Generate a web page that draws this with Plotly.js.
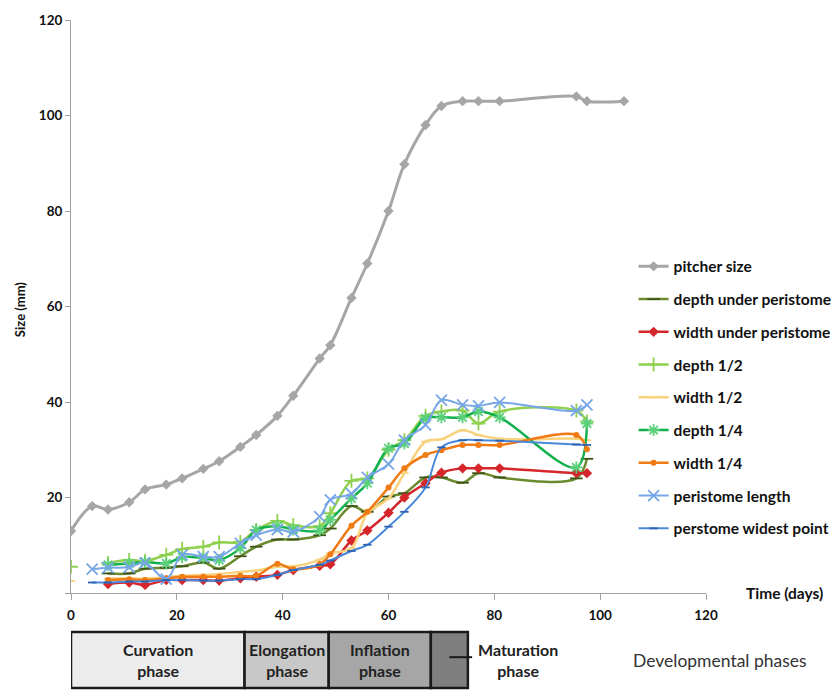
<!DOCTYPE html>
<html>
<head>
<meta charset="utf-8">
<script src="https://cdn.plot.ly/plotly-3.0.1.min.js"></script>
<style>html,body{margin:0;padding:0;background:#fff;}#chart{width:835px;height:690px;overflow:hidden;}</style>
</head>
<body>
<div id="chart"></div>
<script>
// ---- data (days and sizes in mm) ----
const days = [0, 4, 7, 11, 14, 18, 21, 25, 28, 32, 35, 39, 42, 47, 49, 53, 56, 60, 63, 67, 70, 74, 77, 81, 95.5, 97.5, 104.5];
const pitcherSize  = [13, 18.2, 17.5, 19, 21.7, 22.7, 24, 26, 27.6, 30.6, 33.1, 37.1, 41.3, 49.1, 51.9, 61.8, 69, 80, 89.8, 98, 102, 103, 103, 103, 104, 103, 103];
const depthUnder   = [null, null, 4.1, 4.1, 5.1, 5.3, 5.6, 6.4, 5.1, 7.7, 9.7, 11.2, 11.2, 12.1, 13.5, 18.2, 17.0, 20.2, 20.9, 24.2, 24.2, 23.1, 25.1, 24.2, 24.0, 28.1, null];
const widthUnder   = [null, null, 1.9, 2.2, 1.7, 2.7, 2.7, 2.7, 2.6, 3.1, 3.4, 3.8, 4.8, 5.7, 6.0, 11.0, 13.1, 16.8, 20.0, 23.0, 25.2, 26.1, 26.1, 26.1, 25.1, 25.1, null];
const depthHalf    = [5.5, null, 6.3, 6.9, 6.7, 8.0, 9.2, 9.7, 10.6, 10.7, 13.2, 15.1, 14.2, 14.0, 16.7, 23.5, 24.0, 30.0, 32.0, 37.1, 38.0, 38.2, 35.5, 38.0, 38.2, 35.9, null];
const widthHalf    = [2.5, null, 3.0, 3.1, 3.0, 3.3, 3.6, 3.8, 4.0, 4.4, 4.7, 5.5, 5.6, 7.0, 8.3, 9.4, 16.7, 19.8, 25.1, 31.7, 32.2, 34.1, 33.1, 32.3, 32.3, 32.0, null];
const depthQuarter = [null, null, 5.9, 6.2, 6.5, 6.2, 7.5, 7.3, 6.9, 9.4, 13.2, 14.0, 13.3, 13.1, 15.3, 19.8, 23.0, 30.3, 31.3, 36.6, 36.8, 36.8, 38.0, 36.8, 26.3, 35.5, null];
const widthQuarter = [null, null, 2.7, 2.9, 2.7, 3.1, 3.4, 3.4, 3.4, 3.6, 3.6, 6.1, 5.0, 6.0, 8.1, 14.1, 17.0, 22.1, 26.1, 28.9, 29.9, 31.0, 31.0, 31.0, 33.1, 30.1, null];
const periLength   = [null, 5.0, 5.3, 5.4, 6.3, 2.9, 8.0, 7.6, 7.6, 10.4, 12.1, 13.3, 12.8, 16.0, 19.5, 20.8, 24.2, 27.0, 32.0, 35.2, 40.4, 39.4, 39.2, 39.9, 38.2, 39.4, null];
const widestPoint  = [null, 2.2, 2.2, 2.4, 2.4, 2.7, 2.7, 2.6, 2.6, 2.9, 2.9, 3.8, 4.8, 5.9, 6.8, 8.8, 10.1, 13.9, 17.0, 22.1, 30.5, 32.0, 32.0, 31.9, 31.1, 31.0, null];

const seriesNames = ["pitcher size", "depth under peristome", "width under peristome", "depth 1/2", "width 1/2", "depth 1/4", "width 1/4", "peristome length", "perstome widest point"];

const xTicks = [0, 20, 40, 60, 80, 100, 120];
const yTicks = [0, 20, 40, 60, 80, 100, 120];
const yTickText = ["", "20", "40", "60", "80", "100", "120"];

// developmental phases (day boundaries)
const phaseNames  = ["Curvation<br>phase", "Elongation<br>phase", "Inflation<br>phase", "Maturation<br>phase"];
const phaseStart  = [0, 32.8, 48.7, 68];
const phaseEnd    = [32.8, 48.7, 68, 75];
const phaseFill   = ["#ECECEC", "#C8C8C8", "#A6A6A6", "#7F7F7F"];

// ---- styles ----
const FONT = "Lato, 'Open Sans', 'Liberation Sans', sans-serif";
const styles = [
  {color: "#A6A6A6", symbol: "diamond", size: 8, width: 3},
  {color: "#6B8C2E", symbol: "line-ew", size: 9, width: 2.5, mline: "#3E5418"},
  {color: "#D4262B", symbol: "diamond", size: 8, width: 2.5},
  {color: "#8FD14F", symbol: "cross-thin", size: 10, width: 2.5, mline: "#8FD14F"},
  {color: "#F8D27C", symbol: "line-ew", size: 6, width: 2.5, mline: "#F8D27C"},
  {color: "#12B04C", symbol: "asterisk", size: 10, width: 2.5, mline: "#5AD07A"},
  {color: "#F07A14", symbol: "circle", size: 6, width: 2.5},
  {color: "#76A5E8", symbol: "x-thin", size: 11, width: 2, mline: "#76A5E8"},
  {color: "#4A88DA", symbol: "line-ew", size: 6, width: 2, mline: "#2E62B0"}
];
const values = [pitcherSize, depthUnder, widthUnder, depthHalf, widthHalf, depthQuarter, widthQuarter, periLength, widestPoint];

const traces = values.map((v, i) => {
  const s = styles[i];
  const marker = {symbol: s.symbol, size: s.size, color: s.color};
  if (s.mline) marker.line = {color: s.mline, width: 1.8};
  return {
    type: "scatter", mode: "lines+markers",
    x: days, y: v, name: seriesNames[i], legendgroup: "g" + i,
    connectgaps: false,
    line: {color: s.color, width: s.width, shape: "spline", smoothing: 1},
    marker: marker
  };
});

// ---- phase bar ----
const yTop = -0.068, yBot = -0.166, yMid = (yTop + yBot) / 2;
const shapes = phaseNames.map((n, i) => ({
  type: "rect", xref: "x", yref: "paper",
  x0: phaseStart[i], x1: phaseEnd[i], y0: yBot, y1: yTop,
  fillcolor: phaseFill[i], line: {color: "#1a1a1a", width: 2.5}, layer: "above"
}));
shapes.push({type: "line", xref: "x", yref: "paper",
  x0: (phaseStart[3] + phaseEnd[3]) / 2, x1: phaseEnd[3] + 0.8, y0: -0.112, y1: -0.112,
  line: {color: "#1a1a1a", width: 2}});

const annotations = phaseNames.slice(0, 3).map((n, i) => ({
  xref: "x", yref: "paper", x: (phaseStart[i] + phaseEnd[i]) / 2, y: yMid,
  text: n, showarrow: false, font: {family: FONT, size: 16, color: "#222", weight: 700},
  xanchor: "center", yanchor: "middle"
}));
annotations.push({xref: "x", yref: "paper", x: 84.4, y: yMid, text: phaseNames[3], showarrow: false,
  font: {family: FONT, size: 16, color: "#222", weight: 700}, xanchor: "center", yanchor: "middle"});
annotations.push({xref: "paper", yref: "paper", x: 1.022, y: yMid, text: "Developmental phases", showarrow: false,
  font: {family: FONT, size: 17.5, color: "#333"}, xanchor: "center", yanchor: "middle"});
annotations.push({xref: "paper", yref: "paper", x: 1.124, y: 0.0, text: "Time (days)", showarrow: false,
  font: {family: FONT, size: 15.5, color: "#111", weight: 700}, xanchor: "center", yanchor: "middle"});
annotations.push({xref: "paper", yref: "paper", x: -0.080, y: 0.494, text: "Size (mm)", showarrow: false, textangle: -90,
  font: {family: FONT, size: 13, color: "#111", weight: 700}, xanchor: "center", yanchor: "middle"});

const layout = {
  width: 835, height: 690,
  margin: {l: 71, r: 129, t: 20, b: 97, autoexpand: false},
  paper_bgcolor: "#fff", plot_bgcolor: "#fff",
  showlegend: true,
  legend: {x: 0.886, y: 0.599, xanchor: "left", yanchor: "top", bgcolor: "rgba(0,0,0,0)",
    font: {family: FONT, size: 15.5, color: "#111", weight: 700},
    traceorder: "grouped", tracegroupgap: 9.6, itemwidth: 30},
  xaxis: {range: [0, 120], tickvals: xTicks, ticktext: xTicks.map(String), showgrid: false, zeroline: false,
    showline: true, linecolor: "#A0A0A0", linewidth: 1, ticks: "outside", ticklen: 6, tickcolor: "#A0A0A0",
    tickfont: {family: FONT, size: 13.5, color: "#111", weight: 700}, ticklabelstandoff: 4, fixedrange: true},
  yaxis: {range: [0, 120], tickvals: yTicks, ticktext: yTickText, showgrid: false, zeroline: false,
    showline: true, linecolor: "#A0A0A0", linewidth: 1, ticks: "outside", ticklen: 5, tickcolor: "#A0A0A0",
    tickfont: {family: FONT, size: 13.5, color: "#111", weight: 700}, fixedrange: true},
  shapes: shapes,
  annotations: annotations
};

Plotly.newPlot("chart", traces, layout, {displayModeBar: false, staticPlot: true});
</script>
</body>
</html>
